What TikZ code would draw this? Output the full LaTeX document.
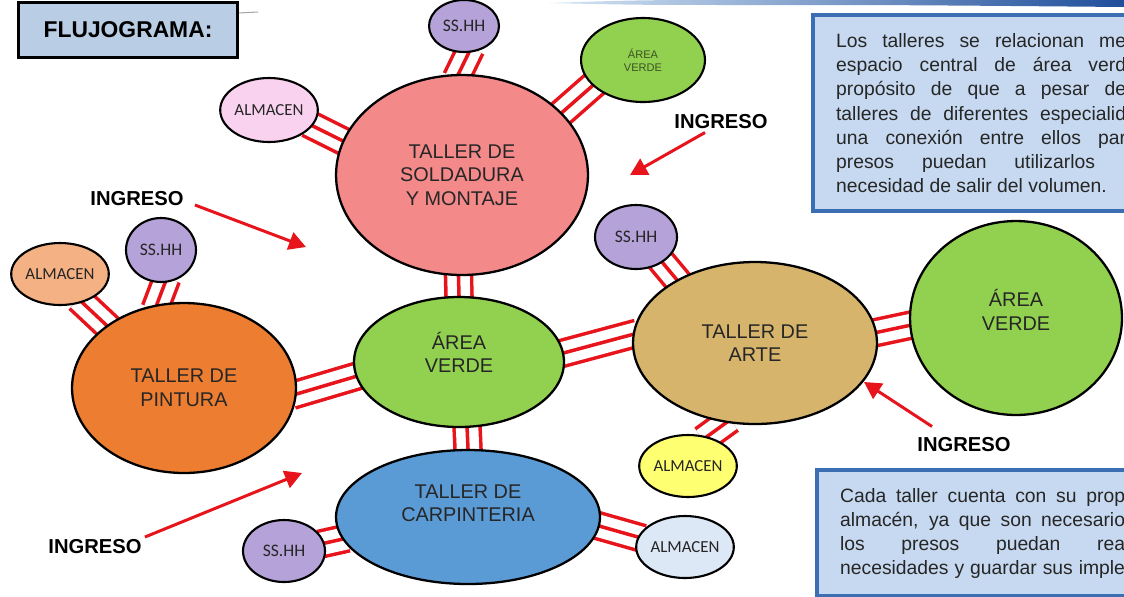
\documentclass[tikz,border=0pt]{standalone}
\usepackage{fontspec}
\setmainfont{Liberation Sans}
\newfontfamily\calibrifont{Carlito}
\usetikzlibrary{arrows.meta,shapes.geometric,backgrounds}
\definecolor{linkred}{HTML}{E8141C}
\definecolor{bandlight}{HTML}{D6E6F5}
\definecolor{banddark}{HTML}{1F4E9B}
\definecolor{titlefill}{HTML}{B9CDE5}
\definecolor{notafill}{HTML}{C6D9F0}
\definecolor{notaborder}{HTML}{3C6EB4}
\definecolor{soldcolor}{HTML}{F4898A}
\definecolor{verdecolor}{HTML}{92D050}
\definecolor{pintcolor}{HTML}{ED7D31}
\definecolor{carpcolor}{HTML}{5B9BD5}
\definecolor{artecolor}{HTML}{D6B46C}
\definecolor{sshhcolor}{HTML}{B4A2D8}
\definecolor{almpink}{HTML}{F9D2EF}
\definecolor{almorange}{HTML}{F4B183}
\definecolor{almyellow}{HTML}{FFFF72}
\definecolor{almblue}{HTML}{DCE8F5}
\definecolor{verdetext}{HTML}{3B5323}
\tikzset{
  zona/.style={ellipse, draw=black, line width=1.3pt, inner sep=0pt, align=center, text=black!85, font=\fontsize{11.3pt}{13.4pt}\selectfont},
  anexo/.style={ellipse, draw=black, line width=1.2pt, inner sep=0pt, align=center, text=black!85, font=\calibrifont\fontsize{9.6pt}{11pt}\selectfont},
  sshh/.style={anexo, fill=sshhcolor, font=\calibrifont\fontsize{10pt}{12pt}\selectfont},
  esize/.style 2 args={minimum width=#1, minimum height=#2},
  triple/.style={preaction={draw=linkred, line width=16.8pt}, preaction={draw=white, line width=12.8pt}, draw=linkred, line width=2pt, shorten <=-3pt, shorten >=-3pt},
  ingreso/.style={font=\bfseries\fontsize{11.5pt}{13pt}\selectfont, inner sep=0pt},
  ingarrow/.style={-{Triangle[length=3.4mm,width=3.6mm]}, draw=linkred, line width=1.7pt},
  notabox/.style={draw=notaborder, line width=2.4pt, fill=notafill, anchor=north west, align=left, inner xsep=4.6mm, text=black!85, font=\fontsize{11pt}{13.7pt}\selectfont},
  titlebox/.style={draw=black, line width=1.6pt, fill=titlefill, minimum width=43.8mm, minimum height=11mm, font=\bfseries\fontsize{13pt}{15pt}\selectfont}
}

\begin{document}
\begin{tikzpicture}[x=0.02cm, y=-0.02cm]
\useasboundingbox (0,0) rectangle (1124,596);
\shade[left color=bandlight, right color=banddark] (548,3) .. controls (640,0) .. (760,0) -- (1124,0) -- (1124,7) .. controls (900,5) .. (760,5) .. controls (640,5) .. (548,3) -- cycle;
\draw[black!35, line width=0.6pt] (238,13) -- (258,12);
\node[titlebox] (titulo) at (128,30) {FLUJOGRAMA:};

% talleres y areas
\node[zona, fill=soldcolor, esize={50.4mm}{40mm}] (soldadura) at (462,175) {TALLER DE\\SOLDADURA\\Y MONTAJE};
\node[zona, fill=verdecolor, esize={42mm}{26mm}, text depth=11pt] (verdeC) at (459,362) {ÁREA\\VERDE};
\node[zona, fill=pintcolor, esize={44.8mm}{34mm}] (pintura) at (184,388) {TALLER DE\\PINTURA};
\node[zona, fill=artecolor, esize={48.8mm}{32.4mm}] (arte) at (755,343) {TALLER DE\\ARTE};
\node[zona, fill=verdecolor, esize={42.4mm}{38.8mm}, text depth=9pt] (verdeR) at (1016,318) {ÁREA\\VERDE};
\node[zona, fill=carpcolor, esize={52.8mm}{26.8mm}, text depth=16pt] (carpinteria) at (468,517) {TALLER DE\\CARPINTERIA};

% servicios
\node[sshh, esize={14mm}{10.4mm}] (ssTop) at (464,26) {SS.HH};
\node[anexo, fill=verdecolor, esize={24.8mm}{16.8mm}, text=verdetext, font=\fontsize{6.3pt}{7.4pt}\selectfont] (verdeTop) at (643,60) {ÁREA\\VERDE};
\node[anexo, fill=almpink, esize={18mm}{12.8mm}] (almPink) at (269,110) {ALMACEN};
\node[sshh, esize={14mm}{12.8mm}] (ssLeft) at (161,250) {SS.HH};
\node[anexo, fill=almorange, esize={18.4mm}{12.4mm}] (almOrange) at (60,274) {ALMACEN};
\node[sshh, esize={16.4mm}{12.8mm}] (ssRight) at (636,237) {SS.HH};
\node[anexo, fill=almyellow, esize={18mm}{12.4mm}] (almYellow) at (688,466) {ALMACEN};
\node[sshh, esize={16.4mm}{12.4mm}] (ssBottom) at (284,551) {SS.HH};
\node[anexo, fill=almblue, esize={18mm}{12.4mm}] (almBlue) at (685,547) {ALMACEN};

\begin{scope}[on background layer]
\draw[triple] (ssTop.-80) -- (soldadura.92);
\draw[triple] (verdeTop.207) -- (soldadura.32);
\draw[triple] (almPink.-20) -- (soldadura.164);
\draw[triple] (soldadura.-92) -- (verdeC.90);
\draw[triple] (ssLeft.-83) -- (pintura.108);
\draw[triple] (almOrange.-52) -- (pintura.141);
\draw[triple] (pintura.-3) -- (verdeC.188);
\draw[triple] (verdeC.5) -- (arte.176);
\draw[triple] (ssRight.-44) -- (arte.141);
\draw[triple] (arte.5) -- (verdeR.184);
\draw[triple] (arte.-110) -- (almYellow.57);
\draw[triple] (verdeC.-83) -- (carpinteria.90);
\draw[triple] (ssBottom.11) -- (carpinteria.190);
\draw[triple] (carpinteria.-4) -- (almBlue.168);
\end{scope}

% ingresos
\node[ingreso] (ingA) at (721,122) {INGRESO};
\node[ingreso] (ingL) at (137,199) {INGRESO};
\node[ingreso] (ingBL) at (95,547) {INGRESO};
\node[ingreso] (ingR) at (964,445) {INGRESO};
\coordinate (tipA) at (630,175);
\coordinate (tipL) at (306,247);
\coordinate (tipBL) at (302,473);
\coordinate (tipR) at (864,382);
\draw[ingarrow] ([shift={(-3.2mm,-0.6mm)}]ingA.south) -- (tipA);
\draw[ingarrow] ([shift={(2.2mm,-1.2mm)}]ingL.east) -- (tipL);
\draw[ingarrow] ([shift={(0.6mm,2mm)}]ingBL.east) -- (tipBL);
\draw[ingarrow] ([shift={(-6.4mm,2.2mm)}]ingR.north) -- (tipR);

% notas
\node[notabox, minimum height=39.2mm] (notaUno) at (811,13) {\makebox[58mm][s]{Los talleres se relacionan me}\\
  \makebox[58mm][s]{espacio central de área verd}\\
  \makebox[58mm][s]{propósito de que a pesar de}\\
  \makebox[58mm][s]{talleres de diferentes especialid}\\
  \makebox[58mm][s]{una conexión entre ellos par}\\
  \makebox[51.8mm][s]{presos puedan utilizarlos}\\
  necesidad de salir del volumen.};
\node[notabox, inner ysep=3.6mm] (notaDos) at (815,468) {\makebox[57mm][s]{Cada taller cuenta con su prop}\\
  \makebox[57mm][s]{almacén, ya que son necesario}\\
  \makebox[57mm][s]{los presos puedan rea}\\
  \makebox[57mm][s]{necesidades y guardar sus imple}};
\end{tikzpicture}
\end{document}
